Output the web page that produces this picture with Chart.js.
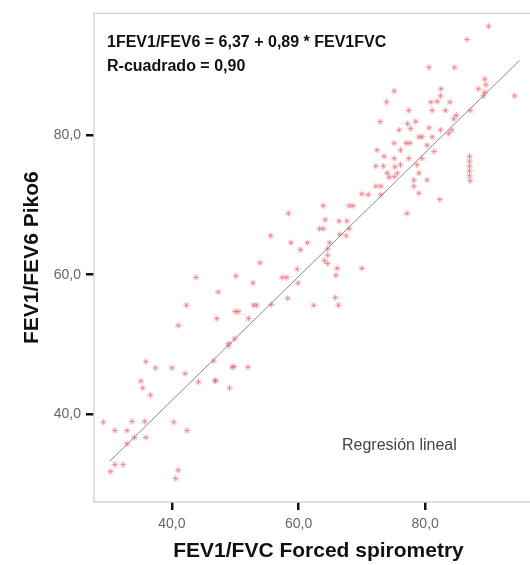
<!DOCTYPE html>
<html>
<head>
<meta charset="utf-8">
<script src="https://cdn.jsdelivr.net/npm/chart.js@4/dist/chart.umd.min.js"></script>
<style>
  html, body { margin: 0; padding: 0; background: #fff; overflow: hidden; }
  canvas { display: block; }
</style>
</head>
<body>
<canvas id="scatterChart" width="548" height="565"></canvas>
<script>
// FEV1/FVC (forced spirometry) vs FEV1/FEV6 (Piko6)
const spiroX = [35.9, 37.4, 40.0, 42.1, 35.1, 35.4, 36.6, 44.2, 46.8, 46.9, 46.6, 49.5, 49.8, 52.0, 49.1, 49.0,
  29.2, 31.0, 32.9, 33.7, 35.7, 34.1, 32.9, 35.9, 40.3, 42.4, 31.0, 32.3, 30.3, 41.0, 40.6,
  53.9, 43.8, 50.1, 52.8, 57.4, 58.1, 59.8, 47.3, 42.3, 50.0, 50.5, 52.9, 53.4, 55.7, 58.3, 52.1, 47.1, 41.0, 49.9, 48.9,
  58.4, 55.6, 58.8, 60.3, 61.4, 59.9,
  72.2, 73.4, 74.0, 75.2, 72.2, 73.0, 73.0, 70.0, 71.0, 63.9, 68.0, 68.6, 64.2, 66.4, 67.6, 63.3, 63.9, 66.5, 68.0, 67.5,
  64.9, 64.6, 64.6, 64.1, 64.6, 66.1, 65.9, 70.0,
  74.3, 75.1, 78.2, 78.2, 79.0, 80.3, 82.3, 77.1, 62.4, 65.8, 66.3,
  75.9, 77.7, 80.6, 82.4, 79.0, 79.5, 77.0, 77.6, 75.1, 81.1, 84.2, 76.1, 80.3, 81.4, 73.5, 75.1, 77.4, 79.5, 76.1, 78.7, 75.6, 79.0,
  87.0, 87.0, 87.0, 87.0, 87.0, 87.1,
  90.0, 86.6, 80.6, 84.6, 75.1, 73.9, 82.5, 82.4, 81.9, 80.9, 83.9, 77.4, 81.1, 83.2, 84.9, 87.1, 89.4, 89.6, 88.4, 89.2,
  89.4, 94.1, 72.9, 77.2, 78.5, 72.4, 83.7, 84.5];

const pikoY = [47.5, 46.6, 46.6, 45.8, 44.7, 43.7, 42.7, 44.6, 44.7, 44.8, 47.6, 46.7, 46.8, 46.7, 43.7, 50.1,
  38.8, 37.6, 37.6, 38.9, 38.9, 36.6, 35.7, 36.6, 38.8, 37.6, 32.7, 32.7, 31.7, 31.9, 30.7,
  61.7, 59.6, 59.8, 58.8, 59.6, 59.6, 60.8, 57.5, 55.6, 54.7, 54.7, 55.6, 55.6, 55.7, 56.6, 53.7, 53.7, 52.7, 50.8, 49.8,
  68.8, 65.6, 64.6, 63.6, 64.6, 58.8,
  75.6, 75.6, 74.6, 75.5, 72.7, 72.7, 71.5, 71.6, 71.5, 69.9, 69.9, 69.9, 67.9, 67.7, 67.7, 66.6, 66.6, 65.8, 66.6, 65.6,
  64.6, 63.7, 62.8, 62.0, 61.6, 60.9, 59.9, 60.9,
  74.0, 74.1, 73.6, 72.7, 71.7, 73.6, 70.8, 68.8, 55.6, 56.7, 55.6,
  80.8, 81.0, 81.1, 80.8, 79.8, 79.8, 78.9, 78.9, 78.9, 79.8, 80.8, 77.9, 78.6, 77.7, 77.0, 76.7, 76.7, 76.7, 75.8, 75.8, 74.6, 74.6,
  77.0, 76.3, 75.6, 74.9, 74.2, 73.5,
  95.7, 93.8, 89.8, 89.8, 86.4, 84.8, 86.7, 85.7, 84.9, 84.8, 84.8, 83.6, 83.6, 83.6, 82.9, 83.6, 88.1, 87.3, 86.7, 85.7,
  86.2, 85.7, 82.0, 81.7, 82.0, 77.9, 80.3, 82.4];

// fitted line endpoints (as drawn)
const fitX = [30.2, 94.9];
const fitY = [33.2, 90.8];

const xTicks = [40, 60, 80];
const yTicks = [40, 60, 80];

const eqLines = ['1FEV1/FEV6 = 6,37 + 0,89 * FEV1FVC', 'R-cuadrado = 0,90'];
const fitLabel = 'Regresión lineal';

const fmt = v => v.toFixed(1).replace('.', ',');

const framePlugin = {
    id: 'frame',
    beforeDatasetsDraw(chart) {
        const { ctx, chartArea: a } = chart;
        ctx.save();
        ctx.strokeStyle = '#d6d6d6';
        ctx.lineWidth = 1.5;
        ctx.strokeRect(a.left, a.top, a.right - a.left, a.bottom - a.top);
        ctx.restore();
    },
    afterDraw(chart) {
        const ctx = chart.ctx;
        ctx.save();
        ctx.fillStyle = '#111';
        ctx.textBaseline = 'middle';
        ctx.font = 'bold 16px "Liberation Sans", Arial, sans-serif';
        ctx.fillText(eqLines[0], 107, 43);
        ctx.fillText(eqLines[1], 107, 67);
        ctx.fillStyle = '#444';
        ctx.font = '16px "Liberation Sans", Arial, sans-serif';
        ctx.fillText(fitLabel, 342, 446);
        ctx.restore();
    }
};

const ctx = document.getElementById('scatterChart').getContext('2d');
new Chart(ctx, {
    type: 'scatter',
    data: {
        datasets: [
            {
                type: 'line',
                data: fitX.map((x, i) => ({ x, y: fitY[i] })),
                borderColor: '#8a8a8a',
                borderWidth: 1,
                pointRadius: 0,
                fill: false
            },
            {
                data: spiroX.map((x, i) => ({ x, y: pikoY[i] })),
                pointStyle: 'star',
                pointRadius: 3.2,
                borderWidth: 1,
                borderColor: 'rgba(232, 105, 112, 0.6)',
                backgroundColor: 'rgba(232, 105, 112, 0.6)'
            }
        ]
    },
    options: {
        responsive: false,
        animation: false,
        layout: { padding: { top: 9, right: 1, left: 0, bottom: 0 } },
        plugins: {
            legend: { display: false },
            tooltip: { enabled: false }
        },
        scales: {
            x: {
                type: 'linear',
                min: 27.7,
                max: 98.6,
                afterBuildTicks: s => { s.ticks = xTicks.map(v => ({ value: v })); },
                afterFit: s => { s.height = 63; },
                border: { display: false },
                grid: { drawOnChartArea: false, drawTicks: true, tickLength: 8, color: '#111', lineWidth: 2.5 },
                ticks: {
                    padding: 6,
                    color: '#666',
                    font: { family: '"Liberation Sans", Arial, sans-serif', size: 14 },
                    callback: v => fmt(v)
                },
                title: {
                    display: true,
                    text: 'FEV1/FVC Forced spirometry',
                    color: '#111',
                    padding: { top: 0, bottom: 1 },
                    font: { family: '"Liberation Sans", Arial, sans-serif', size: 21, weight: 'bold' }
                }
            },
            y: {
                type: 'linear',
                min: 27.33,
                max: 97.55,
                afterBuildTicks: s => { s.ticks = yTicks.map(v => ({ value: v })); },
                afterFit: s => { s.width = 94; },
                border: { display: false },
                grid: { drawOnChartArea: false, drawTicks: true, tickLength: 8, color: '#111', lineWidth: 2.5 },
                ticks: {
                    padding: 5,
                    color: '#666',
                    font: { family: '"Liberation Sans", Arial, sans-serif', size: 14 },
                    callback: v => fmt(v)
                },
                title: {
                    display: true,
                    text: 'FEV1/FEV6 Piko6',
                    color: '#111',
                    padding: { top: 20, bottom: 0 },
                    font: { family: '"Liberation Sans", Arial, sans-serif', size: 21, weight: 'bold' }
                }
            }
        }
    },
    plugins: [framePlugin]
});
</script>
</body>
</html>
